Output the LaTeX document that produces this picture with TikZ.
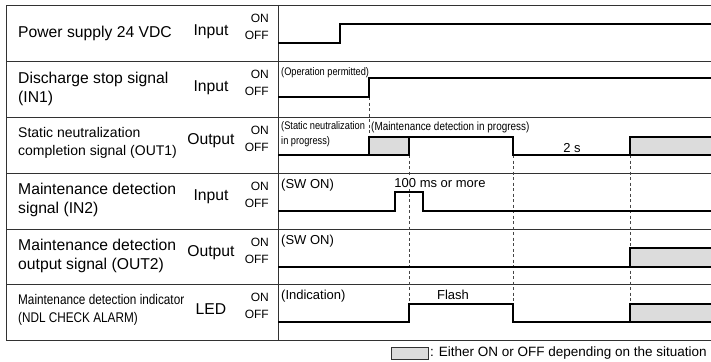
\documentclass[tikz,border=0pt]{standalone}
\usepackage{graphicx}
\usepackage{fontspec}
\setmainfont{Liberation Sans}
\newfontfamily\narrowfont[FakeStretch=0.84]{Liberation Sans}
\newcommand{\squeezed}[1]{\scalebox{0.84}[1]{#1}}
\usetikzlibrary{positioning}
\definecolor{gridgray}{RGB}{50,50,50}
\definecolor{guidegray}{RGB}{70,70,70}
\definecolor{boxgray}{RGB}{220,220,220}

\begin{document}
\begin{tikzpicture}[
        x=1pt, y=-1pt,
        grid/.style={draw=gridgray, line width=0.9pt},
        wave/.style={draw=black, line width=1.7pt, line join=miter},
        guide/.style={draw=guidegray, line width=0.7pt, dash pattern=on 3pt off 2.5pt},
        either/.style={fill=boxgray},
        sig/.style={anchor=west, inner sep=0pt, align=left, font=\fontsize{15.7}{18.5}\selectfont},
        kind/.style={inner sep=0pt, font=\fontsize{15.7}{18}\selectfont},
        lvl/.style={anchor=east, inner sep=0pt, font=\fontsize{12}{14}\selectfont},
        note/.style={anchor=west, inner sep=0pt, align=left, font=\narrowfont\fontsize{11}{14.5}\selectfont},
        tag/.style={inner sep=0pt, font=\fontsize{13}{15}\selectfont}
    ]
        \useasboundingbox (0,0) rectangle (711,361);

        % Table frame
        \draw[grid] (711,5) -- (6.5,5) -- (6.5,340) -- (711,340);
        \draw[grid] (278,5) -- (278,340);
        \foreach \t in {61,117,173,229,284}
            \draw[grid] (6.5,\t) -- (711,\t);

        % ON / OFF levels
        \foreach \t [count=\i] in {5,61,117,173,229,284} {
            \node[lvl] (on\i)  at (269,\t+13) {ON};
            \node[lvl] (off\i) at (269,\t+30) {OFF};
        }

        % Signal names
        \node[sig] (power) at (18,33)  {Power supply 24 VDC};
        \node[sig] (in1)   at (18,89)  {Discharge stop signal\\(IN1)};
        \node[sig, font=\fontsize{14}{18}\selectfont] (out1) at (18,143) {Static neutralization\\completion signal (OUT1)};
        \node[sig] (in2)   at (18,200) {Maintenance detection\\signal (IN2)};
        \node[sig] (out2)  at (18,256) {Maintenance detection\\output signal (OUT2)};
        \node[sig, font=\fontsize{14}{18}\selectfont] (led) at (18,310) {\squeezed{Maintenance detection indicator}\\\squeezed{(NDL CHECK ALARM)}};

        % Input / Output
        \node[kind] (k1) at (211,32)  {Input};
        \node[kind] (k2) at (211,88)  {Input};
        \node[kind] (k3) at (211,141) {Output};
        \node[kind] (k4) at (211,197) {Input};
        \node[kind] (k5) at (211,253) {Output};
        \node[kind] (k6) at (211,309) {LED};

        % Timing guides
        \draw[guide] (369,97) -- (369,137);
        \foreach \x in {409,513,630}
            \draw[guide] (\x,155) -- (\x,304);

        % Don't-care areas
        \fill[either] (369,137) rectangle (409,155);
        \fill[either] (630,137) rectangle (711,155);
        \fill[either] (630,248) rectangle (711,267);
        \fill[either] (630,304) rectangle (711,322);

        % Waveforms
        \draw[wave] (278,43) -- (340,43) -- (340,24) -- (711,24);
        \draw[wave] (278,97) -- (369,97) -- (369,78) -- (711,78);
        \draw[wave] (278,155) -- (369,155) -- (369,137) -- (513,137) -- (513,155) -- (630,155) -- (630,137) -- (711,137);
        \draw[wave] (369,155) -- (409,155) -- (409,137);
        \draw[wave] (630,155) -- (711,155);
        \draw[wave] (278,211) -- (395,211) -- (395,192) -- (423,192) -- (423,211) -- (711,211);
        \draw[wave] (278,267) -- (711,267);
        \draw[wave] (630,267) -- (630,248) -- (711,248);
        \draw[wave] (278,322) -- (409,322) -- (409,304) -- (513,304) -- (513,322) -- (711,322);
        \draw[wave] (630,322) -- (630,304) -- (711,304);

        % Notes on the waveforms
        \node[note] (permit) at (281,73)  {(Operation permitted)};
        \node[note] (neutr)  at (281,134) {(Static neutralization\\in progress)};
        \node[note, font=\narrowfont\fontsize{11.8}{14}\selectfont] (maint) at (371,127) {(Maintenance detection in progress)};
        \node[tag]  (twos)   at (572,148) {2 s};
        \node[tag, anchor=west] (swon1) at (281,185) {(SW ON)};
        \node[tag, fill=white, inner sep=1pt] (hundred) at (440,183) {100 ms or more};
        \node[tag, anchor=west] (swon2) at (281,241) {(SW ON)};
        \node[tag, anchor=west] (indic) at (281,296) {(Indication)};
        \node[tag]  (flash)  at (453,295) {Flash};

        % Legend
        \node[draw=gridgray, line width=0.8pt, fill=boxgray, minimum width=37pt, minimum height=11.5pt, inner sep=0pt] (legbox) at (409.5,353.5) {};
        \node[anchor=west, inner sep=0pt, font=\fontsize{13.5}{15}\selectfont, right=1.5pt of legbox] (legtext) {: Either ON or OFF depending on the situation};
    \end{tikzpicture}
\end{document}
